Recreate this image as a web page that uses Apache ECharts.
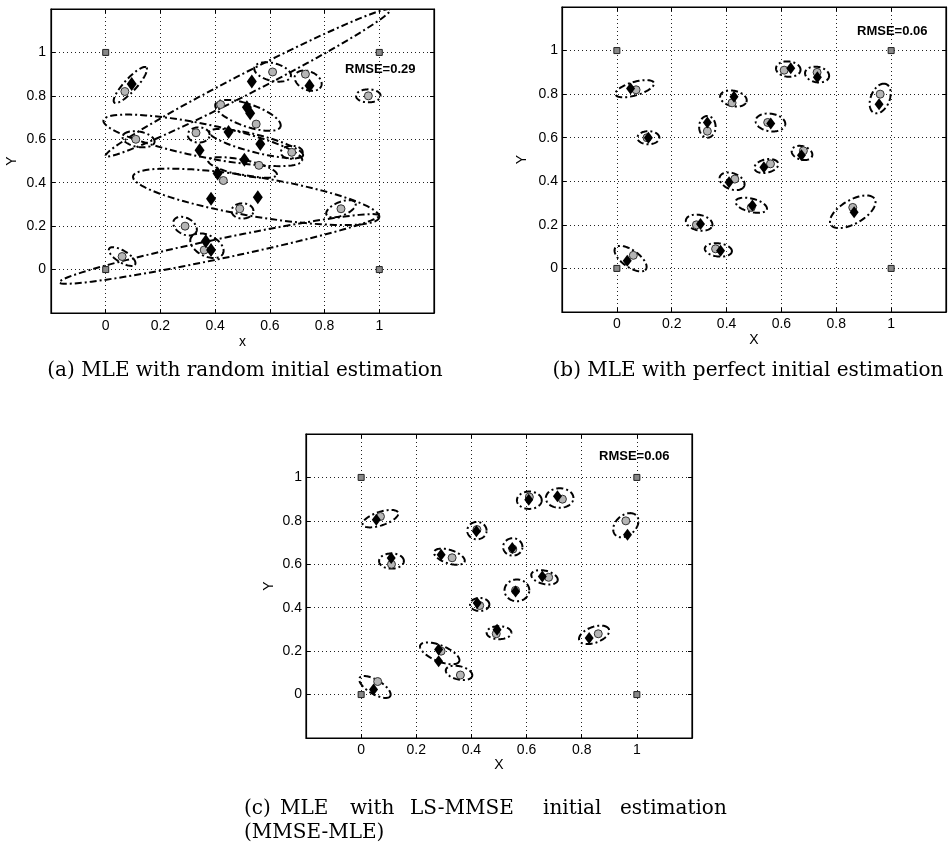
<!DOCTYPE html>
<html><head><meta charset="utf-8">
<script src="https://cdn.jsdelivr.net/npm/echarts@6/dist/echarts.min.js"></script>
<style>html,body{margin:0;padding:0;background:#fff;}#chart{width:952px;height:845px;}</style>
</head><body><div id="chart"></div>
<script>
// ---- tick labels ----
const tickValues = [0, 0.2, 0.4, 0.6, 0.8, 1];
const tickLabels = ['0', '0.2', '0.4', '0.6', '0.8', '1'];

// ---- anchors (grey squares) ----
const anchorX = [0, 0, 1, 1];
const anchorY = [0, 1, 0, 1];

// ---- true node positions (grey circles) ----
const trueX = [0.07, 0.11, 0.33, 0.42, 0.55, 0.61, 0.73, 0.96, 0.68, 0.56, 0.43, 0.49, 0.29, 0.36, 0.06, 0.86];
const trueY = [0.82, 0.60, 0.63, 0.76, 0.67, 0.91, 0.90, 0.80, 0.54, 0.48, 0.41, 0.28, 0.20, 0.09, 0.06, 0.28];

// ---- estimates (black diamonds) ----
const estAX = [0.095, 0.534, 0.745, 0.516, 0.528, 0.449, 0.343, 0.565, 0.507, 0.409, 0.385, 0.556, 0.366, 0.385];
const estAY = [0.855, 0.866, 0.846, 0.748, 0.720, 0.633, 0.549, 0.578, 0.506, 0.442, 0.326, 0.333, 0.131, 0.090];
const estBX = [0.05, 0.115, 0.33, 0.427, 0.561, 0.634, 0.731, 0.956, 0.673, 0.536, 0.409, 0.494, 0.305, 0.378, 0.038, 0.865];
const estBY = [0.826, 0.60, 0.67, 0.788, 0.665, 0.919, 0.877, 0.754, 0.519, 0.465, 0.396, 0.289, 0.204, 0.081, 0.035, 0.258];
const estCX = [0.055, 0.109, 0.29, 0.418, 0.548, 0.608, 0.712, 0.966, 0.657, 0.56, 0.421, 0.493, 0.281, 0.281, 0.045, 0.827];
const estCY = [0.805, 0.629, 0.644, 0.752, 0.675, 0.897, 0.913, 0.736, 0.544, 0.475, 0.422, 0.299, 0.207, 0.153, 0.023, 0.261];

// ---- uncertainty ellipses: [cx, cy, semi-major, semi-minor, angle(deg)] ----
const ellipsesA = [
  [0.415, 0.095, 0.605, 0.045, 14.8],
  [0.55, 0.335, 0.46, 0.09, -12],
  [0.355, 0.595, 0.375, 0.075, -14.5],
  [0.52, 0.86, 0.62, 0.045, 33],
  [0.52, 0.71, 0.13, 0.05, -25],
  [0.55, 0.58, 0.18, 0.04, -18],
  [0.50, 0.47, 0.13, 0.035, -15],
  [0.09, 0.85, 0.10, 0.025, 55],
  [0.96, 0.80, 0.045, 0.03, 0],
  [0.12, 0.60, 0.06, 0.035, -15],
  [0.06, 0.06, 0.06, 0.025, -40],
  [0.29, 0.20, 0.05, 0.035, -45],
  [0.86, 0.28, 0.06, 0.03, 30],
  [0.61, 0.91, 0.07, 0.04, -20],
  [0.74, 0.87, 0.055, 0.04, -40],
  [0.50, 0.27, 0.04, 0.035, 0],
  [0.37, 0.11, 0.07, 0.045, -40],
  [0.34, 0.62, 0.04, 0.035, 0],
  [0.68, 0.54, 0.04, 0.03, 0]
];
const ellipsesB = [
  [0.065, 0.825, 0.075, 0.03, 22],
  [0.115, 0.60, 0.04, 0.03, 0],
  [0.33, 0.65, 0.05, 0.03, 90],
  [0.425, 0.78, 0.05, 0.035, -20],
  [0.56, 0.67, 0.055, 0.04, -15],
  [0.625, 0.915, 0.045, 0.035, -10],
  [0.73, 0.89, 0.045, 0.035, -20],
  [0.96, 0.78, 0.07, 0.035, 75],
  [0.675, 0.53, 0.04, 0.03, -30],
  [0.545, 0.47, 0.045, 0.03, 20],
  [0.42, 0.40, 0.05, 0.035, -35],
  [0.49, 0.29, 0.06, 0.03, -20],
  [0.30, 0.21, 0.05, 0.035, -20],
  [0.37, 0.085, 0.05, 0.03, -10],
  [0.05, 0.045, 0.075, 0.035, -45],
  [0.86, 0.26, 0.10, 0.05, 40]
];
const ellipsesC = [
  [0.07, 0.81, 0.07, 0.03, 25],
  [0.11, 0.615, 0.045, 0.035, 0],
  [0.32, 0.635, 0.06, 0.03, -25],
  [0.42, 0.755, 0.035, 0.04, 0],
  [0.55, 0.68, 0.035, 0.04, 0],
  [0.61, 0.895, 0.045, 0.04, 0],
  [0.72, 0.905, 0.05, 0.045, 0],
  [0.96, 0.78, 0.06, 0.04, 60],
  [0.665, 0.54, 0.05, 0.03, -20],
  [0.565, 0.48, 0.045, 0.05, 0],
  [0.43, 0.415, 0.035, 0.03, 0],
  [0.50, 0.285, 0.045, 0.03, 0],
  [0.285, 0.19, 0.08, 0.035, -30],
  [0.355, 0.10, 0.05, 0.03, -20],
  [0.05, 0.035, 0.07, 0.03, -40],
  [0.845, 0.275, 0.06, 0.035, 30]
];

// ---- texts ----
const rmseTexts = ['RMSE=0.29', 'RMSE=0.06', 'RMSE=0.06'];
const xNames = ['x', 'X', 'X'];
const yNames = ['Y', 'Y', 'Y'];
const captionA = '(a) MLE with random initial estimation';
const captionB = '(b) MLE with perfect initial estimation';
const captionC1Words = ['(c)', 'MLE', 'with', 'LS-MMSE', 'initial', 'estimation'];
const captionC2 = '(MMSE-MLE)';

// ================= rendering =================
const SANS = 'Liberation Sans, Arial, sans-serif';
const SERIF = 'DejaVu Serif, serif';
const zip = (xs, ys) => xs.map((x, i) => [x, ys[i]]);
const fmt = v => { const i = tickValues.findIndex(t => Math.abs(t - v) < 1e-6); return i >= 0 ? tickLabels[i] : ''; };

const grids = [
  { left: 51, top: 9, width: 383, height: 304 },
  { left: 562, top: 7, width: 384, height: 305 },
  { left: 306, top: 434, width: 386, height: 304 }
];
const xNameGap = [22, 21, 20];
const yNameGap = [32, 33, 30];
const xLabelMargin = [6, 5, 5];
const yLabelMargin = [5, 4, 4];

function baseAxis(gi) {
  return {
    type: 'value', gridIndex: gi, min: -0.2, max: 1.2, interval: 0.2,
    axisLine: { show: true, onZero: false, lineStyle: { color: '#000', width: 1.2 } },
    axisTick: { show: true, inside: true, length: 4, lineStyle: { color: '#000' } },
    splitLine: { show: false }
  };
}
const xAxes = [], yAxes = [];
grids.forEach((g, gi) => {
  xAxes.push(Object.assign(baseAxis(gi), {
    position: 'bottom', name: xNames[gi], nameLocation: 'middle', nameGap: xNameGap[gi],
    nameTextStyle: { fontFamily: SANS, fontSize: 14, color: '#000' },
    axisLabel: { formatter: fmt, margin: xLabelMargin[gi], fontFamily: SANS, fontSize: 14, color: '#000', showMinLabel: true, showMaxLabel: true },
    splitLine: { show: true, showMinLine: false, showMaxLine: false, lineStyle: { color: '#222', type: [1, 3], width: 1 } }
  }));
  xAxes.push(Object.assign(baseAxis(gi), { position: 'top', axisLabel: { show: false } }));
  yAxes.push(Object.assign(baseAxis(gi), {
    position: 'left', name: yNames[gi], nameLocation: 'middle', nameGap: yNameGap[gi],
    nameTextStyle: { fontFamily: SANS, fontSize: 14, color: '#000' },
    axisLabel: { formatter: fmt, margin: yLabelMargin[gi], fontFamily: SANS, fontSize: 14, color: '#000', showMinLabel: true, showMaxLabel: true },
    splitLine: { show: true, showMinLine: false, showMaxLine: false, lineStyle: { color: '#222', type: [1, 3], width: 1 } }
  }));
  yAxes.push(Object.assign(baseAxis(gi), { position: 'right', axisLabel: { show: false } }));
});

function ellipseRender(params, api) {
  const cx = api.value(0), cy = api.value(1), a = api.value(2), b = api.value(3);
  const ang = api.value(4) * Math.PI / 180;
  const pts = [];
  const N = 90;
  for (let k = 0; k <= N; k++) {
    const t = 2 * Math.PI * k / N;
    const x = cx + a * Math.cos(t) * Math.cos(ang) - b * Math.sin(t) * Math.sin(ang);
    const y = cy + a * Math.cos(t) * Math.sin(ang) + b * Math.sin(t) * Math.cos(ang);
    pts.push(api.coord([x, y]));
  }
  return {
    type: 'polyline', shape: { points: pts },
    style: { fill: 'none', stroke: '#000', lineWidth: 2, lineDash: [7, 3, 2, 3] }
  };
}

const estSets = [zip(estAX, estAY), zip(estBX, estBY), zip(estCX, estCY)];
const ellSets = [ellipsesA, ellipsesB, ellipsesC];
const diamondSize = [[10, 14], [9, 12], [9, 12]];
const series = [];
grids.forEach((g, gi) => {
  const xi = gi * 2, yi = gi * 2;
  series.push({
    type: 'custom', xAxisIndex: xi, yAxisIndex: yi, renderItem: ellipseRender, clip: true,
    data: ellSets[gi], encode: { x: 0, y: 1 }, silent: true, z: 2
  });
  series.push({
    type: 'scatter', xAxisIndex: xi, yAxisIndex: yi, data: zip(trueX, trueY),
    symbol: 'circle', symbolSize: 8, silent: true, z: 3,
    itemStyle: { color: '#b5b5b5', borderColor: '#333', borderWidth: 1, opacity: 1 }
  });
  series.push({
    type: 'scatter', xAxisIndex: xi, yAxisIndex: yi, data: zip(anchorX, anchorY),
    symbol: 'rect', symbolSize: 6, silent: true, z: 3,
    itemStyle: { color: '#888', borderColor: '#222', borderWidth: 1, opacity: 1 }
  });
  series.push({
    type: 'scatter', xAxisIndex: xi, yAxisIndex: yi, data: estSets[gi],
    symbol: 'diamond', symbolSize: diamondSize[gi], silent: true, z: 4,
    itemStyle: { color: '#000', opacity: 1 }
  });
});

const graphic = [];
const rmsePos = [[345, 71], [857, 33], [599, 458]];
rmseTexts.forEach((t, i) => graphic.push({
  type: 'text', left: rmsePos[i][0], top: rmsePos[i][1] - 8,
  style: { text: t, font: 'bold 13px ' + SANS, fill: '#000' }
}));
const capFont = '20px ' + SERIF;
graphic.push({ type: 'text', x: 245, y: 371, style: { text: captionA, font: capFont, fill: '#000', align: 'center', verticalAlign: 'middle' } });
graphic.push({ type: 'text', x: 748, y: 371, style: { text: captionB, font: capFont, fill: '#000', align: 'center', verticalAlign: 'middle' } });
const c1x = [244, 280, 350, 410, 543, 620];
captionC1Words.forEach((w, i) => graphic.push({ type: 'text', x: c1x[i], y: 809, style: { text: w, font: capFont, fill: '#000', verticalAlign: 'middle' } }));
graphic.push({ type: 'text', x: 244, y: 833, style: { text: captionC2, font: capFont, fill: '#000', verticalAlign: 'middle' } });

const chart = echarts.init(document.getElementById('chart'), null, { renderer: 'canvas' });
chart.setOption({
  animation: false,
  backgroundColor: '#fff',
  grid: grids.map(g => Object.assign({ show: true, borderColor: '#000', borderWidth: 1.2, backgroundColor: 'transparent' }, g)),
  xAxis: xAxes, yAxis: yAxes, series, graphic
});
</script></body></html>
